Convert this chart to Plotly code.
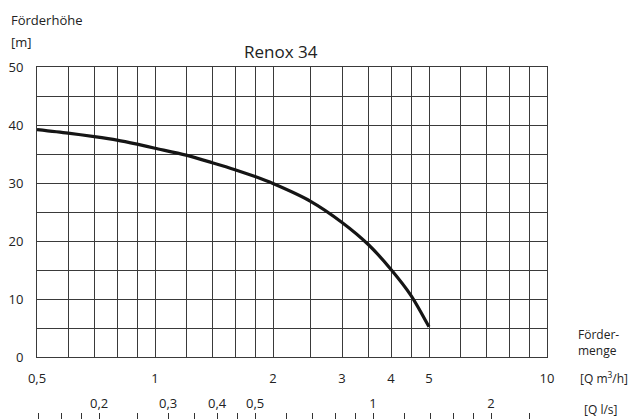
import plotly.graph_objects as go
import math

# Curve: Förderhöhe [m] vs Fördermenge [Q m³/h]
q_m3h = [0.5, 0.6, 0.7, 0.8, 0.9, 1.0, 1.2, 1.4, 1.6, 1.8, 2.0, 2.5, 3.0, 3.5, 4.0, 4.5, 5.0]
head_m = [39.2, 38.6, 38.0, 37.4, 36.7, 36.0, 34.8, 33.5, 32.3, 31.1, 29.9, 26.8, 23.2, 19.4, 15.1, 10.6, 5.2]

# Grid / tick values of the m³/h axis
x_grid = [0.5, 0.6, 0.7, 0.8, 0.9, 1, 1.2, 1.4, 1.6, 1.8, 2, 2.5, 3, 3.5, 4, 4.5, 5, 6, 7, 8, 9, 10]
x_labels = {0.5: "0,5", 1: "1", 2: "2", 3: "3", 4: "4", 5: "5", 10: "10"}

# Ticks of the l/s axis
ls_ticks = [0.14, 0.16, 0.18, 0.2, 0.25, 0.3, 0.35, 0.4, 0.45, 0.5, 0.6, 0.7, 0.8, 0.9,
            1, 1.2, 1.4, 1.6, 1.8, 2, 2.5]
ls_labels = {0.2: "0,2", 0.3: "0,3", 0.4: "0,4", 0.5: "0,5", 1: "1", 2: "2"}

y_grid = [0, 5, 10, 15, 20, 25, 30, 35, 40, 45, 50]
y_labels = {0: "0", 10: "10", 20: "20", 30: "30", 40: "40", 50: "50"}

M3H_PER_LS = 3.6
X_MIN, X_MAX = 0.5, 10

FONT = "Open Sans"
TXT = "#222222"
GRID = "#3a3a3a"

fig = go.Figure()
fig.add_trace(go.Scatter(
    x=q_m3h, y=head_m, mode="lines",
    line=dict(color="#151515", width=3.2, shape="spline", smoothing=0.8),
    hoverinfo="skip", showlegend=False, xaxis="x", yaxis="y"))
# invisible companion trace on the l/s axis
fig.add_trace(go.Scatter(
    x=[v / M3H_PER_LS for v in q_m3h], y=head_m, mode="lines",
    line=dict(width=0), opacity=0, hoverinfo="skip", showlegend=False,
    xaxis="x2", yaxis="y"))

# page has an 8px body margin: figure occupies 630x411 starting at (8, 8)
OFF = 8
W, H = 638 - OFF, 419 - OFF
L, R, T, B = 37 - OFF, 638 - 547, 67 - OFF, 0
plot_h = H - T - B
y_bottom_px = 357 - OFF
ydom0 = (H - y_bottom_px) / plot_h

fig.update_layout(
    width=W, height=H,
    margin=dict(l=L, r=R, t=T, b=B, autoexpand=False),
    paper_bgcolor="white", plot_bgcolor="white",
    font=dict(family=FONT, color=TXT, size=13),
    xaxis=dict(
        type="log", range=[math.log10(X_MIN), math.log10(X_MAX)],
        tickmode="array", tickvals=x_grid,
        ticktext=[x_labels.get(v, "") for v in x_grid],
        showgrid=True, gridcolor=GRID, gridwidth=1,
        showline=True, linecolor=GRID, linewidth=1, mirror=True,
        ticks="", ticklabelstandoff=9, zeroline=False, automargin=False,
        tickfont=dict(size=13, color=TXT), anchor="y"),
    xaxis2=dict(
        type="log",
        range=[math.log10(X_MIN / M3H_PER_LS), math.log10(X_MAX / M3H_PER_LS)],
        overlaying="x", anchor="free", position=0, side="top",
        tickmode="array", tickvals=ls_ticks,
        ticktext=[ls_labels.get(v, "") for v in ls_ticks],
        showgrid=False, showline=False, zeroline=False, automargin=False,
        ticks="outside", ticklen=6, tickwidth=1, tickcolor="#333333",
        tickfont=dict(size=13, color=TXT)),
    yaxis=dict(
        domain=[ydom0, 1], range=[0, 50],
        tickmode="array", tickvals=y_grid,
        ticktext=[y_labels.get(v, "") for v in y_grid],
        showgrid=True, gridcolor=GRID, gridwidth=1,
        showline=True, linecolor=GRID, linewidth=1, mirror=True,
        ticks="", ticklabelstandoff=10, zeroline=False, automargin=False,
        tickfont=dict(size=13, color=TXT)),
)

def px_to_paper_x(px):
    return (px - OFF - L) / (W - L - R)

def px_to_paper_y(py):
    return (H - B - (py - OFF)) / plot_h

annots = [
    dict(text="Renox 34", x=px_to_paper_x(281), y=px_to_paper_y(52),
         xanchor="center", yanchor="middle", font=dict(size=17, color=TXT)),
    dict(text="Förderhöhe", x=px_to_paper_x(9), y=px_to_paper_y(20),
         xanchor="left", yanchor="middle", font=dict(size=13, color=TXT)),
    dict(text="[m]", x=px_to_paper_x(9), y=px_to_paper_y(42),
         xanchor="left", yanchor="middle", font=dict(size=13, color=TXT)),
    dict(text="Förder-<br>menge", x=px_to_paper_x(576), y=px_to_paper_y(342),
         xanchor="left", yanchor="middle", align="left", font=dict(size=12, color=TXT)),
    dict(text="[Q m<sup>3</sup>/h]", x=px_to_paper_x(578), y=px_to_paper_y(378),
         xanchor="left", yanchor="middle", font=dict(size=12, color=TXT)),
    dict(text="[Q l/s]", x=px_to_paper_x(582), y=px_to_paper_y(409),
         xanchor="left", yanchor="middle", font=dict(size=12, color=TXT)),
]
for a in annots:
    fig.add_annotation(xref="paper", yref="paper", showarrow=False, **a)

fig.write_html("out.html")
